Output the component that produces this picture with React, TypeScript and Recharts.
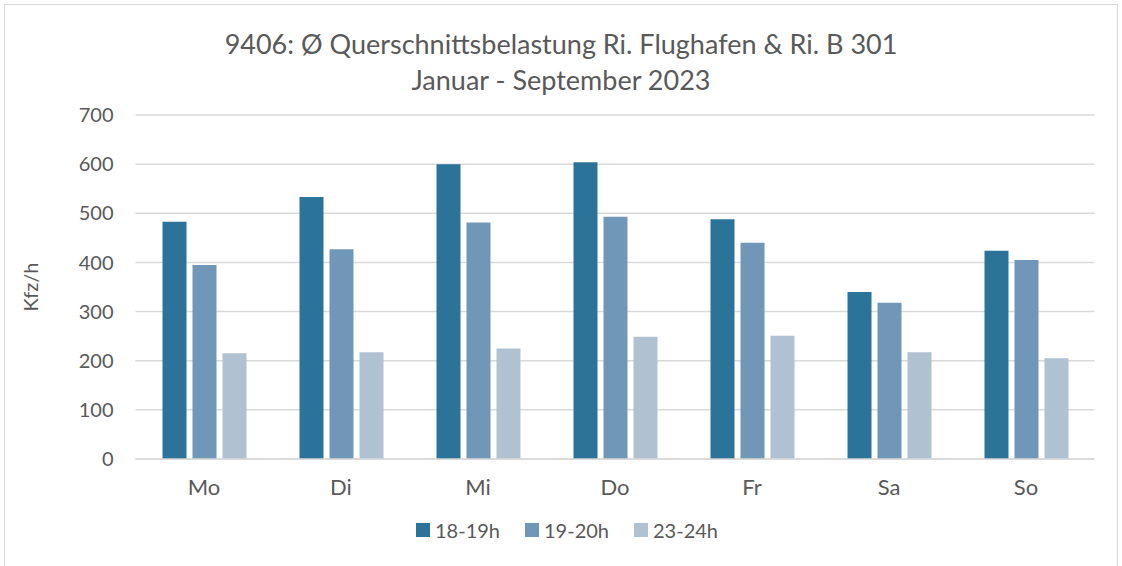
import { BarChart, Bar, XAxis, YAxis, CartesianGrid } from 'recharts'

const days = ['Mo', 'Di', 'Mi', 'Do', 'Fr', 'Sa', 'So']
const h18 = [483, 533, 600, 604, 488, 340, 424]
const h19 = [395, 427, 481, 493, 440, 318, 405]
const h23 = [215, 217, 225, 249, 251, 217, 205]
const yTicks = [0, 100, 200, 300, 400, 500, 600, 700]

const SERIES = [
  { key: 'h18', name: '18-19h', color: '#2b7399' },
  { key: 'h19', name: '19-20h', color: '#7097b8' },
  { key: 'h23', name: '23-24h', color: '#b0c1d2' },
]

const data = days.map((d, i) => ({ day: d, h18: h18[i], h19: h19[i], h23: h23[i] }))

const FONT = 'Lato, "Open Sans", sans-serif'
const TEXT = '#595959'

export default function App() {
  return (
    <div style={{ position: 'fixed', left: 0, top: 0, width: 1122, height: 566, background: '#fff', fontFamily: FONT, overflow: 'hidden' }}>
      <div style={{ position: 'absolute', left: 4, top: 4, width: 1112, height: 580, border: '1px solid #d9d9d9' }} />
      <div style={{ position: 'absolute', left: 0, width: 1122, top: 26, textAlign: 'center', color: TEXT, fontSize: 27, lineHeight: '36px' }}>
        <div>9406: Ø Querschnittsbelastung Ri. Flughafen &amp; Ri. B 301</div>
        <div>Januar - September 2023</div>
      </div>
      <div style={{ position: 'absolute', left: 30, top: 287, transform: 'translate(-50%, -50%) rotate(-90deg)', color: TEXT, fontSize: 20, whiteSpace: 'nowrap' }}>
        Kfz/h
      </div>
      <div style={{ position: 'absolute', top: 0, left: 0 }}>
        <BarChart width={1122} height={566} data={data}
          margin={{ top: 115, right: 27.5, bottom: 67, left: 0 }}
          barSize={24} barGap={6}>
          <CartesianGrid vertical={false} stroke="#d9d9d9" strokeWidth={1.5} />
          <XAxis dataKey="day" height={40} axisLine={{ stroke: '#d9d9d9', strokeWidth: 1.5 }} tickLine={false}
            tick={{ fill: TEXT, fontSize: 22, fontFamily: FONT }} tickMargin={14} />
          <YAxis width={135.5} domain={[0, 700]} ticks={yTicks} axisLine={false} tickLine={false}
            tick={{ fill: TEXT, fontSize: 20, fontFamily: FONT }} tickMargin={16} />
          {SERIES.map(s => (
            <Bar key={s.key} dataKey={s.key} name={s.name} fill={s.color} isAnimationActive={false} />
          ))}
        </BarChart>
      </div>
      <div style={{ position: 'absolute', left: 416, top: 516, display: 'flex', gap: 0 }}>
        {SERIES.map(s => (
          <div key={s.key} style={{ display: 'flex', alignItems: 'center', width: 109, height: 28 }}>
            <span style={{ width: 14, height: 14, background: s.color, marginRight: 5, flexShrink: 0 }} />
            <span style={{ color: TEXT, fontSize: 20 }}>{s.name}</span>
          </div>
        ))}
      </div>
    </div>
  )
}
